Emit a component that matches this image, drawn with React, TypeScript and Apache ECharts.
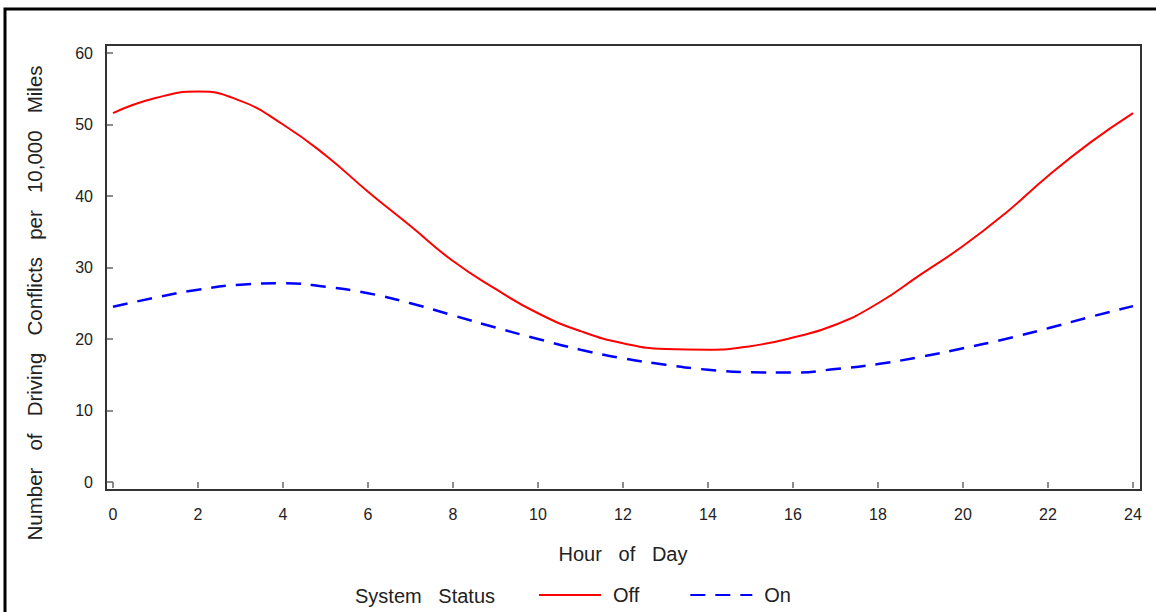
import React, { useEffect, useRef } from "react";
import * as echarts from "echarts";

const hours = [0, 1, 2, 3, 4, 5, 6, 7, 8, 9, 10, 11, 12, 13, 14, 15, 16, 17, 18, 19, 20, 21, 22, 23, 24];
const offValues = [51.6, 53.7, 54.6, 53.3, 50.0, 45.7, 40.6, 35.8, 30.9, 27.0, 23.6, 21.1, 19.4, 18.6, 18.5, 19.0, 20.2, 22.0, 25.0, 29.0, 33.0, 37.6, 42.8, 47.5, 51.6];
const onValues = [24.5, 25.8, 26.9, 27.6, 27.8, 27.3, 26.4, 25.0, 23.3, 21.6, 20.0, 18.5, 17.3, 16.4, 15.7, 15.35, 15.3, 15.8, 16.5, 17.5, 18.7, 20.0, 21.5, 23.1, 24.6];
const seriesNames = ["Off", "On"];
const legendTitle = "System   Status";
const xTitle = "Hour   of   Day";
const yTitle = "Number   of   Driving   Conflicts   per   10,000   Miles";

const FONT = "'Liberation Sans', Arial, Helvetica, sans-serif";

export default function App() {
  const ref = useRef<HTMLDivElement>(null);
  useEffect(() => {
    const chart = echarts.init(ref.current!, null, { renderer: "svg" });
    chart.setOption({
      animation: false,
      backgroundColor: "#ffffff",
      textStyle: { fontFamily: FONT },
      grid: { left: 113, right: 23, top: 53, bottom: 130 },
      xAxis: {
        type: "value",
        min: 0,
        max: 24,
        interval: 2,
        offset: 8,
        axisLine: { show: false },
        axisTick: { show: true, length: 6, lineStyle: { color: "#666", width: 1.5 } },
        splitLine: { show: false },
        axisLabel: { margin: 16, fontSize: 16, color: "#222", fontFamily: FONT },
        name: xTitle,
        nameLocation: "middle",
        nameGap: 54,
        nameTextStyle: { fontSize: 20, color: "#222", fontFamily: FONT },
      },
      yAxis: {
        type: "value",
        min: 0,
        max: 60,
        interval: 10,
        offset: 7,
        axisLine: { show: false },
        axisTick: { show: true, length: 6, lineStyle: { color: "#666", width: 1.5 } },
        splitLine: { show: false },
        axisLabel: { margin: 13, fontSize: 16, color: "#222", fontFamily: FONT },
      },
      legend: {
        left: 538,
        top: 585,
        padding: 0,
        itemWidth: 62,
        itemHeight: 14,
        itemGap: 50,
        data: seriesNames,
        itemStyle: { opacity: 0, color: "transparent", borderWidth: 0 },
        textStyle: { fontSize: 20, color: "#222", fontFamily: FONT, padding: [0, 0, 0, 7] },
      },
      graphic: [
        {
          type: "rect",
          shape: { x: 5, y: 9, width: 1170, height: 640 },
          style: { fill: "none", stroke: "#000", lineWidth: 3 },
          silent: true,
        },
        {
          type: "rect",
          shape: { x: 106, y: 45, width: 1035, height: 445 },
          style: { fill: "none", stroke: "#333", lineWidth: 2 },
          silent: true,
        },
        {
          type: "text",
          left: 355,
          top: 586,
          style: { text: legendTitle, fontSize: 20, fill: "#222", fontFamily: FONT },
        },
        {
          type: "text",
          x: 34,
          y: 303,
          rotation: Math.PI / 2,
          style: {
            text: yTitle,
            fontSize: 20.5,
            fill: "#222",
            fontFamily: FONT,
            align: "center",
            verticalAlign: "middle",
          },
        },
      ],
      series: [
        {
          name: seriesNames[0],
          type: "line",
          smooth: true,
          showSymbol: false,
          symbol: "none",
          data: hours.map((h, i) => [h, offValues[i]]),
          lineStyle: { color: "#ff0000", width: 2 },
          itemStyle: { color: "#ff0000" },
        },
        {
          name: seriesNames[1],
          type: "line",
          smooth: true,
          showSymbol: false,
          symbol: "none",
          data: hours.map((h, i) => [h, onValues[i]]),
          lineStyle: { color: "#0000ff", width: 2.5, type: [15, 10] },
          itemStyle: { color: "#0000ff" },
        },
      ],
    });
    return () => chart.dispose();
  }, []);
  return (
    <div
      ref={ref}
      style={{ position: "fixed", left: 0, top: 0, width: 1156, height: 612, background: "#fff" }}
    />
  );
}
